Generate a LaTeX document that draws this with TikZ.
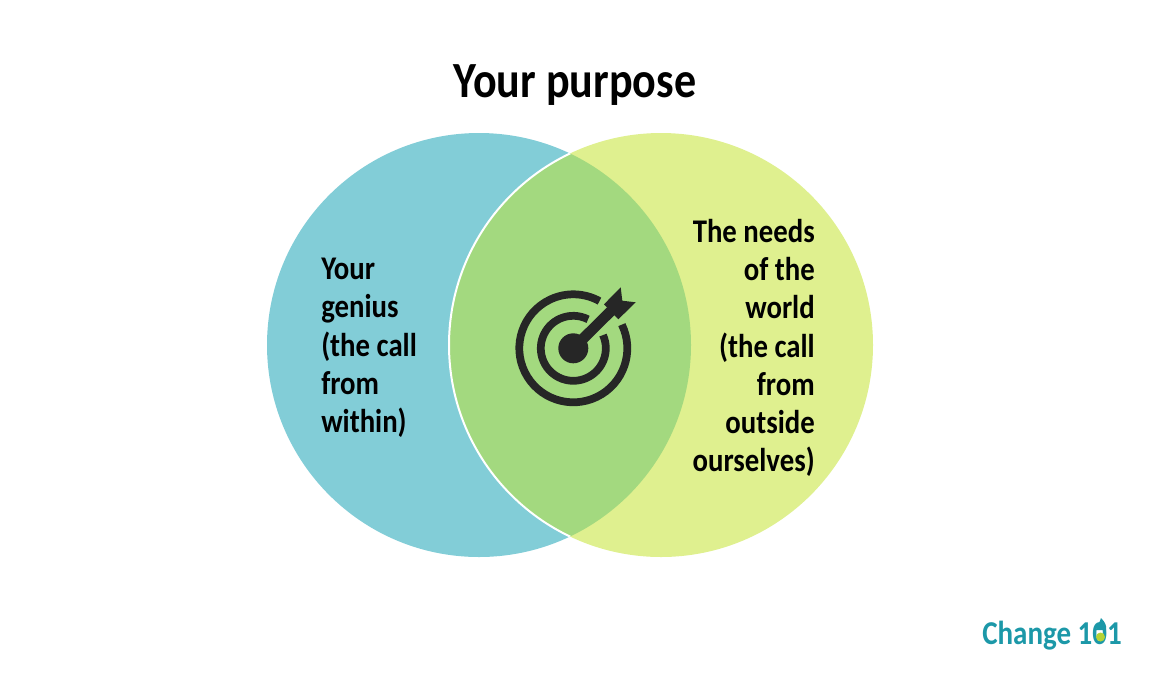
\documentclass[tikz,border=0pt]{standalone}
\usepackage{fontspec}
\setmainfont{Carlito}[FakeStretch=0.87]
\definecolor{geniusblue}{HTML}{82CDD7}
\definecolor{needsgreen}{HTML}{DFF08F}
\definecolor{overlapgreen}{HTML}{A3D97F}
\definecolor{icondark}{HTML}{262626}
\definecolor{logoteal}{HTML}{1C98A8}
\definecolor{logolime}{HTML}{B5D334}
\tikzset{ lbl/.style = { inner sep = 0pt
                       , font      = \bfseries\fontsize{24.8}{28.7}\selectfont
                       },
          ring/.style = { draw      = icondark
                        , line width = 5.8pt
                        }
        }

\begin{document}
\begin{tikzpicture}[x=0.75pt,y=-0.75pt]
            \useasboundingbox (0,0) rectangle (1152,672);
            \coordinate (cl) at (479,345);
            \coordinate (cr) at (661,345);
            \fill[geniusblue] (cl) circle (212);
            \fill[needsgreen] (cr) circle (212);
            \begin{scope}
                \clip (cl) circle (212);
                \fill[overlapgreen] (cr) circle (212);
                \draw[white, line width=1.5pt] (cr) circle (212);
            \end{scope}
            \node[inner sep=0pt, font=\bfseries\fontsize{38}{40}\selectfont] (title) at (575,85) {Your purpose};
            \node[lbl, anchor=west, align=left] (genius) at (321,348) {Your\\genius\\(the call\\from\\within)};
            \node[lbl, anchor=east, align=right] (needs) at (815,348) {The needs\\of the\\world\\(the call\\from\\outside\\ourselves)};
            % target
            \coordinate (bull) at (573.3,348.3);
            \fill[icondark] (bull) circle (15);
            \draw[ring] (bull) ++(-26:54) arc (-26:299:54);
            \draw[ring] (bull) ++(-24:32.5) arc (-24:297:32.5);
            \draw[icondark, line width=8pt] (bull) -- (611,311);
            \fill[icondark] (604,304.3) -- (620.7,287.3) -- (622.3,300.7) -- (635.7,302.3) -- (618.3,319.3) -- cycle;
            % logo
            \node[inner sep=0pt, anchor=east, text=logoteal, font=\bfseries\fontsize{25}{30}\selectfont] (logo) at (1122,636) {Change 101};
            \fill[logoteal] (1096,630) .. controls (1096,625) and (1100,623) .. (1101,618) .. controls (1105,622) and (1107,626) .. (1106,630) -- cycle;
            \fill[logolime] (1100.5,637) circle (4.5);
        \end{tikzpicture}
\end{document}
